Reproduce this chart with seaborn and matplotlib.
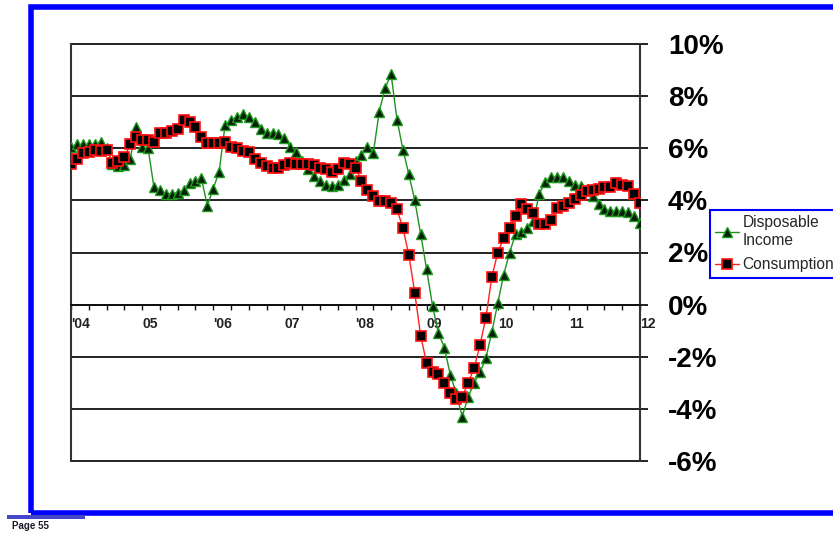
import numpy as np
import pandas as pd
import matplotlib
matplotlib.use("Agg")
import matplotlib.pyplot as plt
import seaborn as sns
from matplotlib.patches import Rectangle

# Year-over-year % change, monthly, Jan 2004 .. Jan 2012
disposable_income = [
    # 2004
    6.05, 6.15, 6.15, 6.15, 6.15, 6.25, 6.0, 5.4, 5.3, 5.35, 5.6, 6.8,
    # 2005
    6.05, 6.0, 4.5, 4.4, 4.25, 4.25, 4.3, 4.4, 4.65, 4.75, 4.85, 3.8,
    # 2006
    4.45, 5.1, 6.9, 7.1, 7.2, 7.3, 7.2, 7.0, 6.75, 6.6, 6.6, 6.55,
    # 2007
    6.4, 6.05, 5.85, 5.5, 5.2, 4.95, 4.75, 4.6, 4.55, 4.6, 4.8, 5.0,
    # 2008
    5.5, 5.75, 6.05, 5.8, 7.4, 8.3, 8.85, 7.1, 5.95, 5.0, 4.0, 2.7,
    # 2009
    1.35, -0.05, -1.1, -1.65, -2.7, -3.4, -4.3, -3.55, -3.0, -2.6, -2.05, -1.05,
    # 2010
    0.05, 1.15, 2.0, 2.7, 2.8, 2.95, 3.2, 4.25, 4.7, 4.9, 4.9, 4.9,
    # 2011
    4.75, 4.6, 4.55, 4.45, 4.15, 3.85, 3.65, 3.6, 3.6, 3.6, 3.55, 3.4,
    # 2012
    3.15,
]

consumption = [
    # 2004
    5.4, 5.6, 5.8, 5.85, 5.95, 5.9, 5.95, 5.45, 5.5, 5.65, 6.15, 6.45,
    # 2005
    6.3, 6.3, 6.25, 6.6, 6.6, 6.65, 6.75, 7.1, 7.0, 6.8, 6.45, 6.2,
    # 2006
    6.2, 6.2, 6.25, 6.05, 6.0, 5.9, 5.85, 5.6, 5.45, 5.3, 5.25, 5.25,
    # 2007
    5.35, 5.45, 5.4, 5.4, 5.4, 5.35, 5.25, 5.2, 5.1, 5.2, 5.45, 5.4,
    # 2008
    5.25, 4.75, 4.4, 4.15, 3.97, 3.97, 3.9, 3.65, 2.95, 1.9, 0.45, -1.2,
    # 2009
    -2.25, -2.6, -2.65, -3.0, -3.4, -3.63, -3.55, -3.0, -2.45, -1.55, -0.5, 1.05,
    # 2010
    2.0, 2.55, 2.95, 3.4, 3.85, 3.65, 3.5, 3.1, 3.1, 3.25, 3.7, 3.8,
    # 2011
    3.9, 4.05, 4.2, 4.35, 4.4, 4.45, 4.5, 4.5, 4.65, 4.6, 4.55, 4.25,
    # 2012
    3.9,
]

year_labels = ["'04", "05", "'06", "07", "'08", "09", "10", "11", "12"]
y_values = [-6, -4, -2, 0, 2, 4, 6, 8, 10]
y_labels = [f"{v}%" for v in y_values]

months = np.arange(len(consumption))
df = pd.DataFrame({"month": months,
                   "income": disposable_income,
                   "consumption": consumption})

sns.set_theme(style="white")
plt.rcParams["font.family"] = ["Liberation Sans", "DejaVu Sans"]

W, H = 833, 533
fig = plt.figure(figsize=(W / 100, H / 100), dpi=100)
ax = fig.add_axes([71 / W, 1 - 461 / H, (640 - 71) / W, (461 - 44) / H])

sns.lineplot(data=df, x="month", y="income", ax=ax, color="#1e921e", lw=1.0,
             marker="^", markersize=7.5, markerfacecolor="#082008",
             markeredgecolor="#1e9a1e", markeredgewidth=1.0,
             label="Disposable\nIncome", zorder=3)
sns.lineplot(data=df, x="month", y="consumption", ax=ax, color="#ff2020", lw=1.0,
             marker="s", markersize=7, markerfacecolor="black",
             markeredgecolor="#ff1010", markeredgewidth=1.2,
             label="Consumption", zorder=4)

ax.set_xlim(0, 96)
ax.set_ylim(-6, 10)
ax.set_xlabel("")
ax.set_ylabel("")
ax.grid(False)

# horizontal rules every 2%
for v in y_values:
    ax.axhline(v, color="#111111", lw=1.3, zorder=1, clip_on=False)

ax.spines["top"].set_visible(False)
ax.spines["bottom"].set_position(("data", 0))
ax.spines["bottom"].set_color("#111111")
ax.spines["bottom"].set_linewidth(1.4)
for side in ("left", "right"):
    ax.spines[side].set_visible(True)
    ax.spines[side].set_color("#333333")
    ax.spines[side].set_linewidth(1.5)

# right-hand percent scale
ax.yaxis.tick_right()
ax.set_yticks(y_values)
ax.set_yticklabels(y_labels)
ax.tick_params(axis="y", which="major", right=True, left=False,
               labelright=True, labelleft=False, length=5.8, width=1.3,
               color="#111111", pad=14.4, labelsize=20, labelcolor="black")
for lbl in ax.get_yticklabels():
    lbl.set_fontweight("bold")

# year labels along the zero line, quarterly ticks
ax.set_xticks(range(0, 97, 12))
ax.set_xticklabels(year_labels)
ax.set_xticks(range(0, 97, 3), minor=True)
ax.tick_params(axis="x", which="both", bottom=True, direction="out",
               length=3.6, width=1.0, color="#111111", pad=5,
               labelsize=10, labelcolor="#222222")
for lbl in ax.get_xticklabels():
    lbl.set_horizontalalignment("left")
    lbl.set_fontweight("bold")

leg = ax.legend(loc="upper left", bbox_to_anchor=(710 / W, 1 - 210 / H),
                bbox_transform=fig.transFigure, frameon=True, fancybox=False,
                edgecolor="#0000ff", fontsize=11.2, handlelength=1.5,
                handletextpad=0.25, borderpad=0.35, labelspacing=0.6,
                borderaxespad=0, facecolor="white", framealpha=1)
leg.get_frame().set_linewidth(1.5)

# blue page frame and footer
fig.add_artist(Rectangle((31 / W, 1 - 513 / H), 1.0, (513 - 7) / H,
                         transform=fig.transFigure, fill=False,
                         edgecolor="#0000ff", lw=4))
fig.add_artist(Rectangle((7 / W, 1 - 519 / H), 78 / W, 4 / H,
                         transform=fig.transFigure, facecolor="#4646c8",
                         edgecolor="none"))
fig.text(12 / W, 1 - 526 / H, "Page 55", fontsize=7, fontweight="bold",
         color="#1a1a2a", va="center", ha="left")

fig.savefig("out.png", dpi=100, facecolor="white")
